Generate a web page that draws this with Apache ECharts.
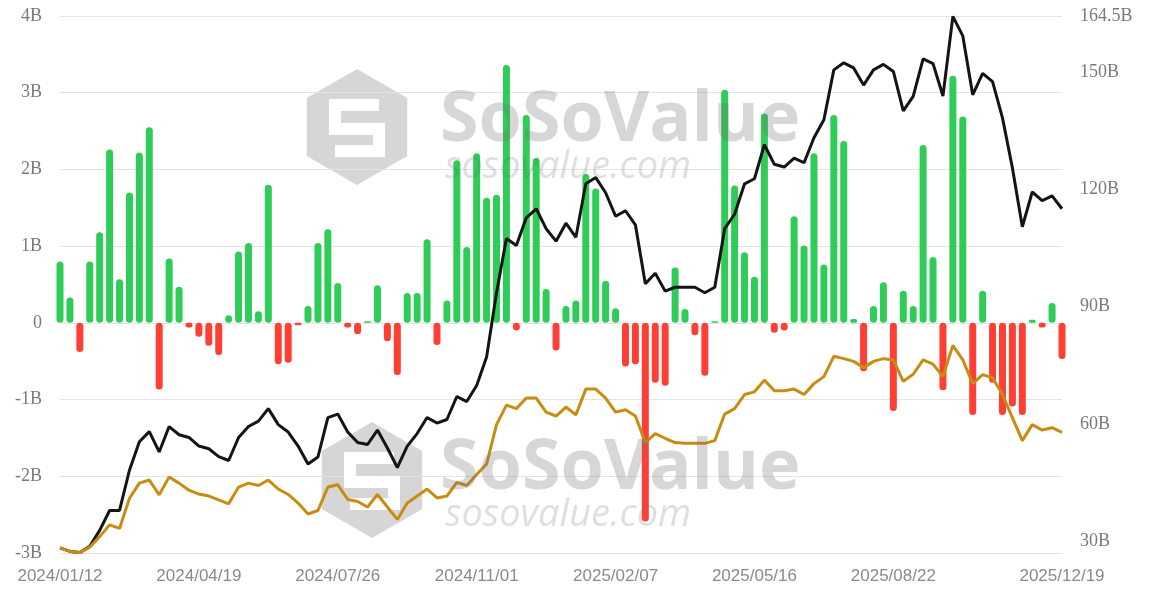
<!DOCTYPE html>
<html lang="en">
<head>
    <meta charset="UTF-8">
    <script src="https://cdn.jsdelivr.net/npm/echarts@6/dist/echarts.min.js"></script>
    <title>ETF net inflow</title>
    <style>
        html, body { margin: 0; padding: 0; background: #fff; }
        #main { width: 1149px; height: 593px; }
    </style>
</head>
<body>
<div id="main"></div>
<script type="text/javascript">
    // weekly dates (x axis)
    var dates = [
        '2024/01/12','2024/01/19','2024/01/26','2024/02/02','2024/02/09','2024/02/16','2024/02/23',
        '2024/03/01','2024/03/08','2024/03/15','2024/03/22','2024/03/29','2024/04/05','2024/04/12',
        '2024/04/19','2024/04/26','2024/05/03','2024/05/10','2024/05/17','2024/05/24','2024/05/31',
        '2024/06/07','2024/06/14','2024/06/21','2024/06/28','2024/07/05','2024/07/12','2024/07/19',
        '2024/07/26','2024/08/02','2024/08/09','2024/08/16','2024/08/23','2024/08/30','2024/09/06',
        '2024/09/13','2024/09/20','2024/09/27','2024/10/04','2024/10/11','2024/10/18','2024/10/25',
        '2024/11/01','2024/11/08','2024/11/15','2024/11/22','2024/11/29','2024/12/06','2024/12/13',
        '2024/12/20','2024/12/27','2025/01/03','2025/01/10','2025/01/17','2025/01/24','2025/01/31',
        '2025/02/07','2025/02/14','2025/02/21','2025/02/28','2025/03/07','2025/03/14','2025/03/21',
        '2025/03/28','2025/04/04','2025/04/11','2025/04/18','2025/04/25','2025/05/02','2025/05/09',
        '2025/05/16','2025/05/23','2025/05/30','2025/06/06','2025/06/13','2025/06/20','2025/06/27',
        '2025/07/04','2025/07/11','2025/07/18','2025/07/25','2025/08/01','2025/08/08','2025/08/15',
        '2025/08/22','2025/08/29','2025/09/05','2025/09/12','2025/09/19','2025/09/26','2025/10/03',
        '2025/10/10','2025/10/17','2025/10/24','2025/10/31','2025/11/07','2025/11/14','2025/11/21',
        '2025/11/28','2025/12/05','2025/12/12','2025/12/19'
    ];

    // weekly net inflow, B
    var netInflow = [
        0.80, 0.33, -0.38, 0.80, 1.18, 2.26, 0.57, 1.70, 2.22, 2.55,
        -0.87, 0.84, 0.47, -0.06, -0.18, -0.30, -0.42, 0.10, 0.93, 1.04,
        0.15, 1.80, -0.54, -0.52, -0.03, 0.22, 1.04, 1.22, 0.52, -0.06,
        -0.15, 0.02, 0.49, -0.24, -0.68, 0.39, 0.39, 1.09, -0.29, 0.29,
        2.12, 0.99, 2.21, 1.63, 1.67, 3.36, -0.10, 2.71, 2.15, 0.44,
        -0.36, 0.22, 0.29, 1.94, 1.75, 0.55, 0.19, -0.57, -0.54, -2.59,
        -0.78, -0.82, 0.72, 0.18, -0.16, -0.69, 0.02, 3.04, 1.79, 0.92,
        0.60, 2.73, -0.13, -0.10, 1.39, 1.01, 2.21, 0.76, 2.71, 2.37,
        0.05, -0.63, 0.22, 0.53, -1.15, 0.42, 0.22, 2.32, 0.86, -0.88,
        3.22, 2.69, -1.20, 0.42, -0.78, -1.20, -1.09, -1.20, 0.04, -0.06,
        0.26, -0.47
    ];

    // total net assets, B (black)
    var totalAssets = [
        28.2, 27.3, 27.0, 28.6, 32.7, 37.8, 37.8, 48.1, 55.4, 58.0,
        52.8, 59.3, 57.2, 56.5, 54.3, 53.6, 51.6, 50.6, 56.5, 59.3,
        60.7, 63.9, 59.8, 57.9, 54.3, 49.7, 51.5, 61.6, 62.5, 57.9,
        55.2, 54.7, 58.4, 53.8, 48.8, 54.3, 57.5, 61.6, 60.2, 61.1,
        67.0, 65.7, 69.8, 77.1, 93.6, 107.5, 105.7, 112.8, 115.1, 110.0,
        106.8, 111.4, 107.8, 121.5, 123.1, 119.2, 113.2, 114.6, 111.0, 95.9,
        98.6, 94.0, 95.0, 95.0, 95.0, 93.6, 95.0, 110.0, 113.7, 121.5,
        122.8, 131.5, 126.5, 125.8, 128.1, 126.9, 133.3, 137.9, 150.7, 152.5,
        151.2, 146.8, 150.7, 152.1, 150.3, 140.2, 143.9, 153.5, 152.3, 144.0,
        164.4, 159.4, 144.3, 149.8, 147.7, 138.4, 125.6, 110.5, 119.4, 117.2,
        118.4, 115.1
    ];

    // cumulative net inflow, B (gold)
    var cumInflow = [
        28.2, 27.3, 27.0, 28.4, 31.1, 34.1, 33.2, 40.9, 44.8, 45.6,
        41.8, 46.4, 44.8, 43.0, 42.0, 41.5, 40.5, 39.5, 43.8, 44.8,
        44.2, 45.6, 43.3, 41.9, 39.7, 36.9, 37.8, 43.8, 44.4, 40.6,
        40.1, 38.7, 41.9, 38.7, 35.5, 39.7, 41.5, 43.3, 41.0, 41.5,
        45.0, 44.2, 47.0, 49.7, 59.8, 64.8, 63.9, 66.6, 66.6, 63.0,
        62.0, 64.3, 62.3, 68.9, 68.9, 66.6, 63.0, 63.6, 62.0, 55.2,
        57.5, 56.3, 55.2, 55.0, 55.0, 55.0, 55.7, 62.5, 63.9, 67.5,
        68.2, 71.2, 68.5, 68.5, 68.9, 67.5, 70.3, 72.1, 77.3, 76.7,
        76.0, 74.4, 76.0, 76.7, 76.4, 70.9, 72.7, 76.4, 75.3, 72.1,
        80.1, 76.4, 70.3, 72.6, 71.8, 67.5, 61.6, 55.7, 59.8, 58.4,
        59.0, 57.8
    ];

    var rightTicks = [30, 60, 90, 120, 150, 164.5];
    var shownDates = ['2024/01/12', '2024/04/19', '2024/07/26', '2024/11/01',
        '2025/02/07', '2025/05/16', '2025/08/22', '2025/12/19'];

    var myChart = echarts.init(document.getElementById('main'));

    // watermark (logo under the series, text over them)
    var wmColor = 'rgba(110,110,110,0.28)';
    function hexagon(cx, cy, r) {
        var pts = [];
        for (var k = 0; k < 6; k++) {
            var a = Math.PI / 180 * (60 * k - 90);
            pts.push([cx + r * Math.cos(a), cy + r * Math.sin(a)]);
        }
        return pts;
    }
    function watermark(x, y, lx, ly) {
        return [
            { type: 'polygon', shape: { points: hexagon(lx, ly, 58) }, style: { fill: '#d6d6d6' }, z: 0 },
            { type: 'polyline', z: 1,
              shape: { points: [[lx + 22, ly - 22], [lx - 22, ly - 22], [lx - 22, ly + 2], [lx + 22, ly + 2], [lx + 22, ly + 24], [lx - 22, ly + 24]] },
              style: { stroke: '#ffffff', lineWidth: 12, fill: null } },
            { type: 'text', left: x, top: y - 24, z: 100,
              style: { text: 'SoSoValue', fill: wmColor, font: 'bold 70px "Open Sans", sans-serif' } },
            { type: 'text', left: x + 5, top: y + 38, z: 100,
              style: { text: 'sosovalue.com', fill: 'rgba(110,110,110,0.22)', font: 'italic 38px "Open Sans", sans-serif' } }
        ];
    }

    var option = {
        animation: false,
        grid: { left: 60, right: 87, top: 16, bottom: 40 },
        xAxis: {
            type: 'category',
            data: dates,
            boundaryGap: false,
            axisLine: { show: false },
            axisTick: { show: false },
            axisLabel: {
                color: '#8a8a8a',
                fontSize: 17,
                fontFamily: 'Liberation Sans',
                margin: 15,
                interval: function (idx, val) { return shownDates.indexOf(val) >= 0; }
            }
        },
        yAxis: [{
            type: 'value',
            min: -3,
            max: 4,
            interval: 1,
            axisLabel: {
                color: '#7a7a7a',
                fontSize: 18,
                fontFamily: 'Liberation Serif',
                margin: 18,
                formatter: function (v) { return v === 0 ? '0' : v + 'B'; }
            },
            splitLine: { lineStyle: { color: '#e4e4e4', width: 1 } }
        }, {
            type: 'value',
            min: 26.9,
            max: 164.5,
            position: 'right',
            splitLine: { show: false },
            axisLabel: {
                customValues: rightTicks,
                color: '#7a7a7a',
                fontSize: 18,
                fontFamily: 'Liberation Serif',
                margin: 18,
                formatter: function (v) { return v + 'B'; }
            }
        }],
        series: [{
            name: 'Net inflow',
            type: 'bar',
            data: netInflow,
            barWidth: 7,
            itemStyle: {
                borderRadius: 3.5,
                color: function (p) { return p.value >= 0 ? '#2fcc58' : '#ff3f34'; }
            }
        }, {
            name: 'Total net assets',
            type: 'line',
            yAxisIndex: 1,
            data: totalAssets,
            showSymbol: false,
            lineStyle: { color: '#141414', width: 3 },
            z: 3
        }, {
            name: 'Cumulative net inflow',
            type: 'line',
            yAxisIndex: 1,
            data: cumInflow,
            showSymbol: false,
            lineStyle: { color: '#c98c12', width: 3 },
            z: 4
        }],
        graphic: watermark(440, 110, 357, 127).concat(watermark(440, 458, 372, 480))
    };
    myChart.setOption(option);
</script>
</body>
</html>
